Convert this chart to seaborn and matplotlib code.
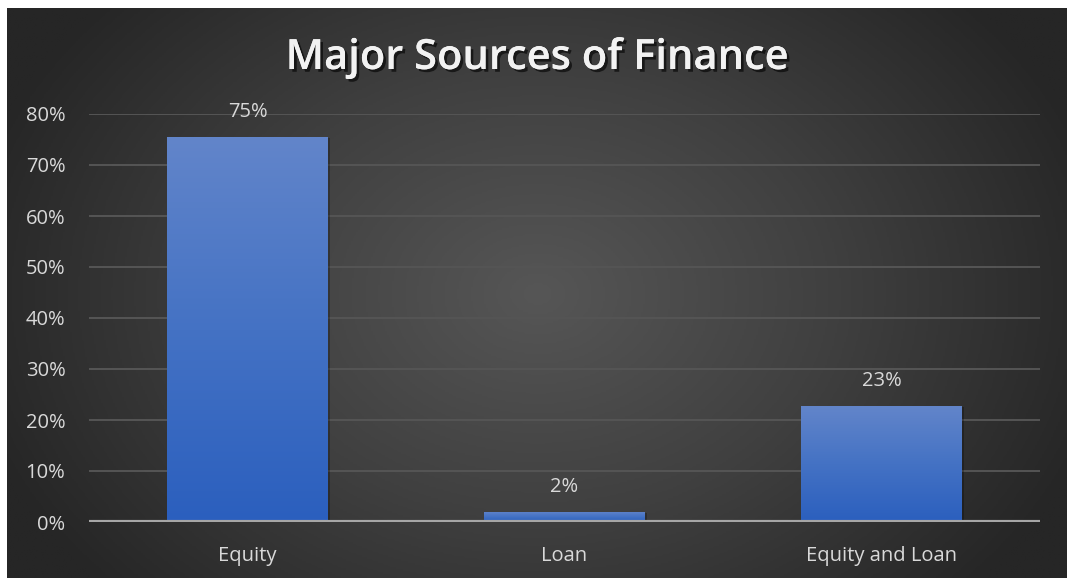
import numpy as np
import pandas as pd
import matplotlib
matplotlib.use("Agg")
import matplotlib.pyplot as plt
import matplotlib.patheffects as pe
from matplotlib.colors import LinearSegmentedColormap
import seaborn as sns

categories = ["Equity", "Loan", "Equity and Loan"]
shares = [0.754, 0.02, 0.227]
y_ticks = [0.0, 0.1, 0.2, 0.3, 0.4, 0.5, 0.6, 0.7, 0.8]
title = "Major Sources of Finance"

df = pd.DataFrame({"source": categories, "share": shares})

sns.set_style("dark")
plt.rcParams["font.family"] = ["Open Sans", "DejaVu Sans"]

W, H = 1067, 578
fig = plt.figure(figsize=(W / 100, H / 100), dpi=100)
fig.patch.set_facecolor("white")

# background panel with radial gradient
bg = fig.add_axes([7 / W, 0, 1 - 7 / W, 1 - 8 / H])
bg.set_axis_off()
yy, xx = np.mgrid[0:300, 0:600]
cx, cy = 300, 150
r = np.sqrt(((xx - cx) / 330.0) ** 2 + ((yy - cy) / 230.0) ** 2)
vals = np.clip(r, 0, 1)
bg_cmap = LinearSegmentedColormap.from_list("bg", ["#565656", "#404040", "#262626"])
bg.imshow(vals, cmap=bg_cmap, aspect="auto", extent=[0, 1, 0, 1], vmin=0, vmax=1)
bg.set_xlim(0, 1)
bg.set_ylim(0, 1)

ax = fig.add_axes([89 / W, 1 - 522 / H, (1040 - 89) / W, (522 - 114) / H])
ax.patch.set_alpha(0)
sns.barplot(data=df, x="source", y="share", ax=ax, width=0.505,
            color="#4472c4", saturation=1, zorder=3)

ax.set_ylim(0, 0.8)
ax.set_xlim(-0.5, 2.5)
ax.set_yticks(y_ticks)
ax.set_yticklabels([f"{t:.0%}" for t in y_ticks])
ax.set_xlabel("")
ax.set_ylabel("")
ax.tick_params(axis="both", colors="#d9d9d9", labelsize=14.5, length=0)
ax.tick_params(axis="y", pad=17)
ax.tick_params(axis="x", pad=17)
for lab in ax.get_xticklabels() + ax.get_yticklabels():
    lab.set_color("#d9d9d9")
for s in ax.spines.values():
    s.set_visible(False)
ax.grid(axis="y", color="#555555", linewidth=1.4, zorder=0)
ax.grid(axis="x", visible=False)
ax.axhline(0, color="#a6a6a6", linewidth=3, zorder=5)

# gradient fill on bars
bar_cmap = LinearSegmentedColormap.from_list("bar", ["#2b5fbe", "#4472c4", "#6285ca"])
grad = np.linspace(0, 1, 256).reshape(-1, 1)
for p in ax.patches:
    x0, y0 = p.get_x(), p.get_y()
    w, h = p.get_width(), p.get_height()
    # soft shadow
    ax.add_patch(plt.Rectangle((x0 + 0.008, y0), w, h - 0.002, facecolor="black",
                               alpha=0.25, zorder=2, linewidth=0))
    im = ax.imshow(grad, cmap=bar_cmap, aspect="auto", origin="lower",
                   extent=[x0, x0 + w, y0, y0 + h], zorder=4)
    im.set_clip_path(p)
    p.set_edgecolor("none")

for i, v in enumerate(shares):
    ax.text(i, v + 0.03, f"{v:.0%}", ha="center", va="bottom",
            color="#d9d9d9", fontsize=14.5, zorder=6)

ax.set_xlim(-0.5, 2.5)
ax.set_ylim(0, 0.8)

fig.text(537 / W, 1 - 58 / H, title, ha="center", va="center", color="#f2f2f2",
         fontsize=30, fontweight="semibold",
         path_effects=[pe.withSimplePatchShadow(offset=(2, -2), shadow_rgbFace="black", alpha=0.6),
                       pe.Normal()])

fig.savefig("out.png", dpi=100, facecolor=fig.get_facecolor())
